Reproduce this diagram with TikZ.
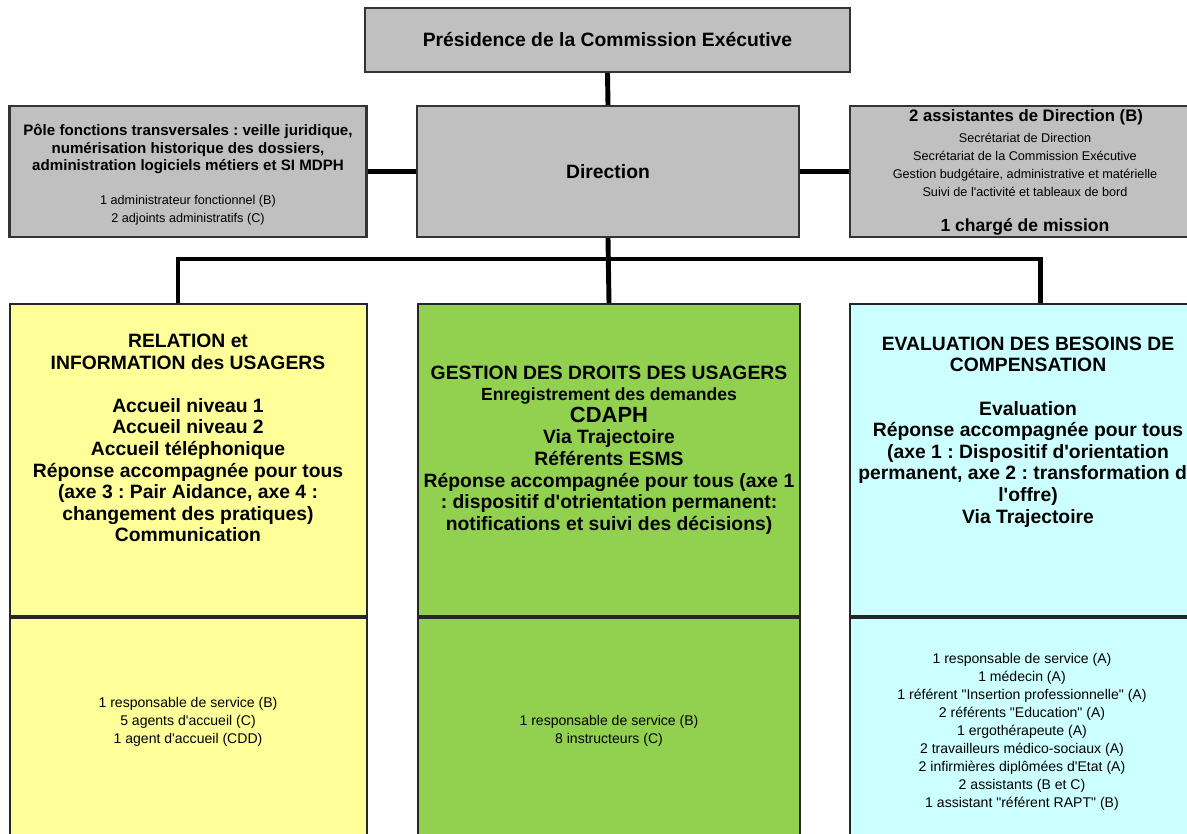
\documentclass[tikz,border=0pt]{standalone}
\usepackage{fontspec}
\setmainfont{Liberation Sans}[Ligatures=TeXOff]
\usetikzlibrary{calc}
\frenchspacing

\definecolor{unitgray}{HTML}{C0C0C0}
\definecolor{relyellow}{HTML}{FFFF99}
\definecolor{gestgreen}{HTML}{92D050}
\definecolor{evalcyan}{HTML}{CCFFFF}

\tikzset{
  unit/.style={draw=black!80, line width=1.2pt, fill=unitgray, inner sep=0pt},
  service/.style={draw=black!85, line width=1.1pt, fill=#1, inner sep=0pt},
  link/.style={line width=2.8pt},
  headtxt/.style={align=center, inner sep=0pt, font=\fontsize{11}{12.3}\selectfont\bfseries},
  poletxt/.style={align=center, inner sep=0pt, font=\fontsize{8.6}{9.7}\selectfont\bfseries},
  smalltxt/.style={align=center, inner sep=0pt, font=\fontsize{7.2}{10.2}\selectfont},
  stafftxt/.style={align=center, inner sep=0pt, font=\fontsize{8}{10.2}\selectfont},
}

\begin{document}
\begin{tikzpicture}[x=0.02cm, y=-0.02cm]
  \useasboundingbox (0,0) rectangle (1187,834);
  \clip (0,0) rectangle (1187,834);
  % presidence and direction
  \node[unit, headtxt, minimum width=9.7cm, minimum height=1.28cm] (pres) at (607.5,40)
    {Présidence de la Commission Exécutive};
  \node[unit, headtxt, minimum width=7.64cm, minimum height=2.62cm] (dir) at (608,171.5)
    {Direction};
  \node[unit, minimum width=7.14cm, minimum height=2.62cm] (pole) at (188,171.5) {};
  \node[unit, minimum width=7.14cm, minimum height=2.62cm] (assist) at (1028.5,171.5) {};
  \node[poletxt] (poletitle) at (188,149)
    {Pôle fonctions transversales : veille juridique,\\
     numérisation historique des dossiers,\\
     administration logiciels métiers et SI MDPH};
  \node[smalltxt] (polestaff) at (188,210)
    {1 administrateur fonctionnel (B)\\ 2 adjoints administratifs (C)};
  \node[inner sep=0pt, font=\fontsize{9.5}{11}\selectfont\bfseries] (assisttitle) at (1026,117)
    {2 assistantes de Direction (B)};
  \node[smalltxt] (assistlist) at (1025,165)
    {Secrétariat de Direction\\
     Secrétariat de la Commission Exécutive\\
     Gestion budgétaire, administrative et matérielle\\
     Suivi de l'activité et tableaux de bord};
  \node[inner sep=0pt, font=\fontsize{10}{11}\selectfont\bfseries] (mission) at (1025,227)
    {1 chargé de mission};
  % services
  \node[service=relyellow, minimum width=7.14cm, minimum height=6.24cm] (relation) at (188.5,460) {};
  \node[service=relyellow, minimum width=7.14cm, minimum height=4.7cm, anchor=north]
    (relationstaff) at (relation.south) {};
  \node[service=gestgreen, minimum width=7.64cm, minimum height=6.24cm] (gestion) at (609,460) {};
  \node[service=gestgreen, minimum width=7.64cm, minimum height=4.7cm, anchor=north]
    (gestionstaff) at (gestion.south) {};
  \node[service=evalcyan, minimum width=7.14cm, minimum height=6.24cm] (evaluation) at (1028.5,460) {};
  \node[service=evalcyan, minimum width=7.14cm, minimum height=4.7cm, anchor=north]
    (evaluationstaff) at (evaluation.south) {};
  \node[headtxt] (relationtxt) at (188,438)
    {RELATION et\\ INFORMATION des USAGERS\\[12.3pt]
     Accueil niveau 1\\ Accueil niveau 2\\ Accueil téléphonique\\
     Réponse accompagnée pour tous\\ (axe 3 : Pair Aidance, axe 4 :\\
     changement des pratiques)\\ Communication};
  \node[headtxt] (gestiontxt) at (609,450)
    {GESTION DES DROITS DES USAGERS\\
     {\fontsize{10}{12.3}\selectfont Enregistrement des demandes}\\
     {\fontsize{12.5}{12.3}\selectfont CDAPH}\\
     Via Trajectoire\\ Référents ESMS\\
     Réponse accompagnée pour tous (axe 1\\
     : dispositif d'otrientation permanent:\\
     notifications et suivi des décisions)};
  \node[headtxt] (evaluationtxt) at (1028,432)
    {EVALUATION DES BESOINS DE\\ COMPENSATION\\[12.3pt]
     Evaluation\\ Réponse accompagnée pour tous\\
     (axe 1 : Dispositif d'orientation\\
     permanent, axe 2 : transformation de\\
     l'offre)\\ Via Trajectoire};
  \node[stafftxt] (relationlist) at (188,722)
    {1 responsable de service (B)\\ 5 agents d'accueil (C)\\ 1 agent d'accueil (CDD)};
  \node[stafftxt] (gestionlist) at (609,731)
    {1 responsable de service (B)\\ 8 instructeurs (C)};
  \node[stafftxt] (evaluationlist) at (1022,732)
    {1 responsable de service (A)\\ 1 médecin (A)\\
     1 référent "Insertion professionnelle" (A)\\ 2 référents "Education" (A)\\
     1 ergothérapeute (A)\\ 2 travailleurs médico-sociaux (A)\\
     2 infirmières diplômées d'Etat (A)\\ 2 assistants (B et C)\\
     1 assistant "référent RAPT" (B)};
  % links
  \coordinate (bus) at ($(dir.south)+(0,21)$);
  \draw[link] (pres.south) -- (dir.north);
  \draw[link] (pole) -- (dir);
  \draw[link] (dir) -- (assist);
  \draw[link] (dir.south) -- (gestion.north);
  \draw[link] ([xshift=-6]relation.north) |- (bus) -| ([xshift=7]evaluation.north);
\end{tikzpicture}
\end{document}
